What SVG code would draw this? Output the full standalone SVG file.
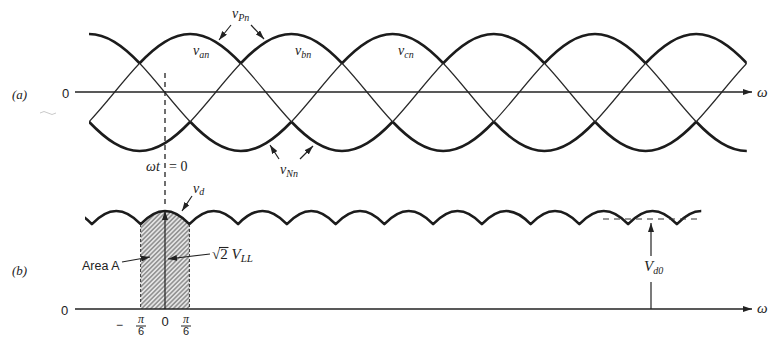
<svg xmlns="http://www.w3.org/2000/svg" xmlns:xlink="http://www.w3.org/1999/xlink" width="770" height="339" viewBox="0 0 770 339">
<style>
.thick{fill:none;stroke:#1c1c1c;stroke-width:2.6;stroke-linejoin:round}
.thin{fill:none;stroke:#2a2a2a;stroke-width:1.2}
.axis{fill:none;stroke:#222;stroke-width:1.6}
.arr{fill:none;stroke:#222;stroke-width:1.2}
.dash{fill:none;stroke:#222;stroke-width:1.3;stroke-dasharray:5 4}
.lbl{font-family:"Liberation Serif","DejaVu Serif",serif;font-style:italic;fill:#222}
.num{font-family:"Liberation Sans","DejaVu Sans",sans-serif;fill:#222}
</style>
<defs>
<marker id="ah" markerWidth="9" markerHeight="6" refX="9" refY="3" orient="auto" markerUnits="userSpaceOnUse">
<path d="M0,0 L9,3 L0,6 z" fill="#222"/>
</marker>
<pattern id="hatch" patternUnits="userSpaceOnUse" width="3.2" height="3.2" patternTransform="rotate(45)">
<line x1="1.6" y1="0" x2="1.6" y2="3.2" stroke="#555" stroke-width="0.9"/>
</pattern>
<clipPath id="clipA"><rect x="89" y="20" width="657.8" height="145"/></clipPath>
<clipPath id="clipB"><rect x="85" y="195" width="616.25" height="40"/></clipPath>
<g id="unit">
<path class="thick" d="M-50.6 63.25 C-42.167 54.41 -33.733 46.945 -25.3 41.84 C-16.867 36.735 -8.433 34 0 34 C8.433 34 16.867 36.735 25.3 41.84 C33.733 46.945 42.167 54.41 50.6 63.25"/>
<path class="thin" d="M50.6 63.25 C59.033 72.09 67.467 82.29 75.9 92.5 C84.333 102.71 92.767 112.91 101.2 121.75"/>
<path class="thick" transform="translate(-101.2 0)" d="M101.2 121.75 C109.633 130.59 118.067 138.055 126.5 143.16 C134.933 148.265 143.367 151 151.8 151 C160.233 151 168.667 148.265 177.1 143.16 C185.533 138.055 193.967 130.59 202.4 121.75"/>
<path class="thin" transform="translate(-202.4 0)" d="M202.4 121.75 C210.833 112.91 219.267 102.71 227.7 92.5 C236.133 82.29 244.567 72.09 253 63.25"/>
</g>
</defs>
<rect width="770" height="339" fill="#fff"/>

<g id="waves-a" clip-path="url(#clipA)">
<use xlink:href="#unit" x="89"/>
<use xlink:href="#unit" x="190.2"/>
<use xlink:href="#unit" x="291.4"/>
<use xlink:href="#unit" x="392.6"/>
<use xlink:href="#unit" x="493.8"/>
<use xlink:href="#unit" x="595"/>
<use xlink:href="#unit" x="696.2"/>
</g>

<g id="area-a">
<path fill="#e4e4e4" d="M140.625 309 V224.13 C148.75 215.58 156.875 211 165 211 C173.125 211 181.25 215.58 189.375 224.13 V309 Z"/>
<path fill="url(#hatch)" d="M140.625 309 V224.13 C148.75 215.58 156.875 211 165 211 C173.125 211 181.25 215.58 189.375 224.13 V309 Z"/>
<line x1="140.6" y1="224" x2="140.6" y2="309" stroke="#333" stroke-width="1" stroke-dasharray="3 2"/>
<line x1="189.4" y1="224" x2="189.4" y2="309" stroke="#333" stroke-width="1" stroke-dasharray="3 2"/>
</g>

<g id="vd-curve" clip-path="url(#clipB)">
<path class="thick" stroke-width="2.2" d="M43.125 224.13 c8.125 -8.55 16.25 -13.13 24.375 -13.13 c8.125 0 16.25 4.58 24.375 13.13 c8.125 -8.55 16.25 -13.13 24.375 -13.13 c8.125 0 16.25 4.58 24.375 13.13 c8.125 -8.55 16.25 -13.13 24.375 -13.13 c8.125 0 16.25 4.58 24.375 13.13 c8.125 -8.55 16.25 -13.13 24.375 -13.13 c8.125 0 16.25 4.58 24.375 13.13 c8.125 -8.55 16.25 -13.13 24.375 -13.13 c8.125 0 16.25 4.58 24.375 13.13 c8.125 -8.55 16.25 -13.13 24.375 -13.13 c8.125 0 16.25 4.58 24.375 13.13 c8.125 -8.55 16.25 -13.13 24.375 -13.13 c8.125 0 16.25 4.58 24.375 13.13 c8.125 -8.55 16.25 -13.13 24.375 -13.13 c8.125 0 16.25 4.58 24.375 13.13 c8.125 -8.55 16.25 -13.13 24.375 -13.13 c8.125 0 16.25 4.58 24.375 13.13 c8.125 -8.55 16.25 -13.13 24.375 -13.13 c8.125 0 16.25 4.58 24.375 13.13 c8.125 -8.55 16.25 -13.13 24.375 -13.13 c8.125 0 16.25 4.58 24.375 13.13 c8.125 -8.55 16.25 -13.13 24.375 -13.13 c8.125 0 16.25 4.58 24.375 13.13 c8.125 -8.55 16.25 -13.13 24.375 -13.13 c8.125 0 16.25 4.58 24.375 13.13 c8.125 -8.55 16.25 -13.13 24.375 -13.13 c8.125 0 16.25 4.58 24.375 13.13"/>
</g>

<g id="connectors">
<line class="axis" x1="75" y1="92" x2="752" y2="92" marker-end="url(#ah)"/>
<line class="axis" x1="75" y1="309" x2="752" y2="309" marker-end="url(#ah)"/>
<line class="dash" x1="165" y1="73" x2="165" y2="205"/>
<line class="arr" x1="165" y1="309" x2="165" y2="211" marker-end="url(#ah)"/>
<line class="arr" x1="231" y1="25" x2="219" y2="40" marker-end="url(#ah)"/>
<line class="arr" x1="251" y1="25" x2="264" y2="39" marker-end="url(#ah)"/>
<line class="arr" x1="279" y1="159" x2="270" y2="145" marker-end="url(#ah)"/>
<line class="arr" x1="300" y1="159" x2="313" y2="146" marker-end="url(#ah)"/>
<line class="arr" x1="192" y1="196" x2="182" y2="211" marker-end="url(#ah)"/>
<line class="arr" x1="122" y1="262" x2="150" y2="257" marker-end="url(#ah)"/>
<line class="arr" x1="210" y1="254" x2="168" y2="259" marker-end="url(#ah)"/>
<line x1="603" y1="219" x2="701" y2="219" stroke="#333" stroke-width="1.2" stroke-dasharray="6 5"/>
<line class="arr" x1="651" y1="309" x2="651" y2="282"/>
<line class="arr" x1="651" y1="256" x2="651" y2="223" marker-end="url(#ah)"/>
<line x1="219" y1="247.5" x2="228.5" y2="247.5" stroke="#222" stroke-width="1.1"/>
<line x1="136" y1="326" x2="146" y2="326" stroke="#222" stroke-width="1"/>
<line x1="181" y1="326" x2="191" y2="326" stroke="#222" stroke-width="1"/>
<path d="M40 113 q4 -3 8 0 t8 0" fill="none" stroke="#bbb" stroke-width="0.8"/>
</g>

<g id="labels">
<text class="lbl" x="12" y="99" font-size="13">(a)</text>
<text class="lbl" x="12" y="275" font-size="13">(b)</text>
<text class="num" x="62" y="98" font-size="13">0</text>
<text class="num" x="61" y="315" font-size="13">0</text>
<text class="lbl" x="232" y="18" font-size="14">v<tspan font-size="10" dy="3">Pn</tspan></text>
<text class="lbl" x="193" y="55" font-size="14">v<tspan font-size="10" dy="3">an</tspan></text>
<text class="lbl" x="295" y="55" font-size="14">v<tspan font-size="10" dy="3">bn</tspan></text>
<text class="lbl" x="398" y="55" font-size="14">v<tspan font-size="10" dy="3">cn</tspan></text>
<text class="lbl" x="280" y="174" font-size="14">v<tspan font-size="10" dy="3">Nn</tspan></text>
<text class="lbl" font-size="14" y="171"><tspan x="146">ωt</tspan><tspan x="169" font-style="normal">= 0</tspan></text>
<text class="lbl" x="193" y="193" font-size="14">v<tspan font-size="10" dy="2">d</tspan></text>
<text class="num" x="82" y="270" font-size="12.5">Area A</text>
<text class="lbl" x="212" y="259" font-size="15"><tspan font-style="normal">√2</tspan> V<tspan font-size="11" dy="3">LL</tspan></text>
<text class="lbl" x="644" y="271" font-size="15">V<tspan font-size="10" dy="3">d0</tspan></text>
<text class="lbl" x="757" y="97" font-size="15">ω</text>
<text class="lbl" x="757" y="313" font-size="15">ω</text>
<text class="num" x="116" y="329" font-size="12">−</text>
<text class="lbl" x="141" y="323" font-size="12" text-anchor="middle">π</text>
<text class="num" x="141" y="335" font-size="11" text-anchor="middle">6</text>
<text class="num" x="165" y="326" font-size="13" text-anchor="middle">0</text>
<text class="lbl" x="186" y="323" font-size="12" text-anchor="middle">π</text>
<text class="num" x="186" y="335" font-size="11" text-anchor="middle">6</text>
</g>
</svg>
